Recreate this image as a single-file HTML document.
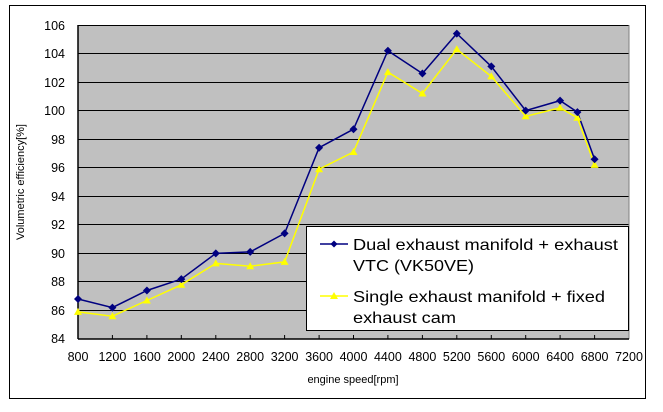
<!DOCTYPE html>
<html><head><meta charset="utf-8"><style>
body{margin:0;background:#fff;width:663px;height:412px;overflow:hidden}
svg{display:block;font-family:"Liberation Sans","Noto Sans CJK JP",sans-serif}
</style></head><body>
<svg width="663" height="412" viewBox="0 0 663 412">
<rect x="9.5" y="5.5" width="636" height="393" fill="#fff" stroke="#000" stroke-width="1"/>
<rect x="78" y="25" width="551" height="314" fill="#c0c0c0"/>
<g stroke="#000" stroke-width="1">
<line x1="78" y1="25.5" x2="629" y2="25.5"/><line x1="78" y1="53.5" x2="629" y2="53.5"/>
<line x1="78" y1="82.5" x2="629" y2="82.5"/><line x1="78" y1="110.5" x2="629" y2="110.5"/>
<line x1="78" y1="139.5" x2="629" y2="139.5"/><line x1="78" y1="167.5" x2="629" y2="167.5"/>
<line x1="78" y1="196.5" x2="629" y2="196.5"/><line x1="78" y1="224.5" x2="629" y2="224.5"/>
<line x1="78" y1="253.5" x2="629" y2="253.5"/><line x1="78" y1="281.5" x2="629" y2="281.5"/>
<line x1="78" y1="310.5" x2="629" y2="310.5"/>
</g>
<line x1="629" y1="25" x2="629" y2="339" stroke="#808080"/>
<line x1="78" y1="339" x2="629" y2="339" stroke="#000" stroke-width="1.5"/>
<line x1="78" y1="25" x2="78" y2="339" stroke="#000" stroke-width="1.5"/>
<g stroke="#000">
<line x1="112.4" y1="335" x2="112.4" y2="339"/><line x1="146.9" y1="335" x2="146.9" y2="339"/><line x1="181.3" y1="335" x2="181.3" y2="339"/><line x1="215.8" y1="335" x2="215.8" y2="339"/><line x1="250.2" y1="335" x2="250.2" y2="339"/><line x1="284.6" y1="335" x2="284.6" y2="339"/><line x1="319.1" y1="335" x2="319.1" y2="339"/><line x1="353.5" y1="335" x2="353.5" y2="339"/><line x1="387.9" y1="335" x2="387.9" y2="339"/><line x1="422.4" y1="335" x2="422.4" y2="339"/><line x1="456.8" y1="335" x2="456.8" y2="339"/><line x1="491.3" y1="335" x2="491.3" y2="339"/><line x1="525.7" y1="335" x2="525.7" y2="339"/><line x1="560.1" y1="335" x2="560.1" y2="339"/><line x1="594.6" y1="335" x2="594.6" y2="339"/>
</g>
<g font-size="12.5" text-anchor="end" fill="#000">
<text x="65" y="30">106</text><text x="65" y="58">104</text><text x="65" y="87">102</text><text x="65" y="115">100</text><text x="65" y="144">98</text><text x="65" y="172">96</text><text x="65" y="201">94</text><text x="65" y="229">92</text><text x="65" y="258">90</text><text x="65" y="286">88</text><text x="65" y="315">86</text><text x="65" y="343">84</text>
</g>
<g font-size="12.5" text-anchor="middle" fill="#000">
<text x="78" y="361">800</text><text x="112.4" y="361">1200</text><text x="146.9" y="361">1600</text><text x="181.3" y="361">2000</text><text x="215.8" y="361">2400</text><text x="250.2" y="361">2800</text><text x="284.6" y="361">3200</text><text x="319.1" y="361">3600</text><text x="353.5" y="361">4000</text><text x="387.9" y="361">4400</text><text x="422.4" y="361">4800</text><text x="456.8" y="361">5200</text><text x="491.3" y="361">5600</text><text x="525.7" y="361">6000</text><text x="560.1" y="361">6400</text><text x="594.6" y="361">6800</text><text x="629" y="361">7200</text>
</g>
<text x="353" y="383" font-size="11" text-anchor="middle">engine speed[rpm]</text>
<text transform="translate(24,182) rotate(-90)" font-size="11" text-anchor="middle">Volumetric efficiency[%]</text>
<polyline fill="none" stroke="#ffff00" stroke-width="1.5" points="78,311.9 112.4,316.2 146.9,300.5 181.3,284.8 215.8,263.4 250.2,266.2 284.6,261.9 319.1,169.2 353.5,152 387.9,72.1 422.4,93.5 456.8,49.3 491.3,76.4 525.7,116.3 560.1,107.8 577.4,117.8 594.6,164.9"/>
<polyline fill="none" stroke="#000080" stroke-width="1.5" points="78,299 112.4,307.6 146.9,290.5 181.3,279.1 215.8,253.4 250.2,251.9 284.6,233.4 319.1,147.7 353.5,129.2 387.9,50.7 422.4,73.5 456.8,33.6 491.3,66.4 525.7,110.6 560.1,100.6 577.4,112.1 594.6,159.2"/>
<g fill="#ffff00">
<path d="M78,307.9l4,7h-8z"/><path d="M112.4,312.2l4,7h-8z"/><path d="M146.9,296.5l4,7h-8z"/><path d="M181.3,280.8l4,7h-8z"/><path d="M215.8,259.4l4,7h-8z"/><path d="M250.2,262.2l4,7h-8z"/><path d="M284.6,257.9l4,7h-8z"/><path d="M319.1,165.2l4,7h-8z"/><path d="M353.5,148l4,7h-8z"/><path d="M387.9,68.1l4,7h-8z"/><path d="M422.4,89.5l4,7h-8z"/><path d="M456.8,45.3l4,7h-8z"/><path d="M491.3,72.4l4,7h-8z"/><path d="M525.7,112.3l4,7h-8z"/><path d="M560.1,103.8l4,7h-8z"/><path d="M577.4,113.8l4,7h-8z"/><path d="M594.6,160.9l4,7h-8z"/>
</g>
<g fill="#000080">
<path d="M78,295l4,4l-4,4l-4,-4z"/><path d="M112.4,303.6l4,4l-4,4l-4,-4z"/><path d="M146.9,286.5l4,4l-4,4l-4,-4z"/><path d="M181.3,275.1l4,4l-4,4l-4,-4z"/><path d="M215.8,249.4l4,4l-4,4l-4,-4z"/><path d="M250.2,247.9l4,4l-4,4l-4,-4z"/><path d="M284.6,229.4l4,4l-4,4l-4,-4z"/><path d="M319.1,143.7l4,4l-4,4l-4,-4z"/><path d="M353.5,125.2l4,4l-4,4l-4,-4z"/><path d="M387.9,46.7l4,4l-4,4l-4,-4z"/><path d="M422.4,69.5l4,4l-4,4l-4,-4z"/><path d="M456.8,29.6l4,4l-4,4l-4,-4z"/><path d="M491.3,62.4l4,4l-4,4l-4,-4z"/><path d="M525.7,106.6l4,4l-4,4l-4,-4z"/><path d="M560.1,96.6l4,4l-4,4l-4,-4z"/><path d="M577.4,108.1l4,4l-4,4l-4,-4z"/><path d="M594.6,155.2l4,4l-4,4l-4,-4z"/>
</g>
<rect x="306.5" y="226.5" width="322" height="104" fill="#fff" stroke="#000"/>
<line x1="320" y1="244" x2="348" y2="244" stroke="#000080" stroke-width="1.5"/>
<path d="M334,240.5l3.5,3.5l-3.5,3.5l-3.5,-3.5z" fill="#000080"/>
<line x1="320" y1="296" x2="348" y2="296" stroke="#ffff00" stroke-width="1.5"/>
<path d="M334,292l4,7h-8z" fill="#ffff00"/>
<g font-size="16" fill="#000">
<text x="353" y="250" textLength="265" lengthAdjust="spacingAndGlyphs">Dual exhaust manifold + exhaust</text>
<text x="353" y="271" textLength="121" lengthAdjust="spacingAndGlyphs">VTC (VK50VE)</text>
<text x="353" y="302" textLength="252" lengthAdjust="spacingAndGlyphs">Single exhaust manifold + fixed</text>
<text x="353" y="323" textLength="103" lengthAdjust="spacingAndGlyphs">exhaust cam</text>
</g>
</svg>
</body></html>
